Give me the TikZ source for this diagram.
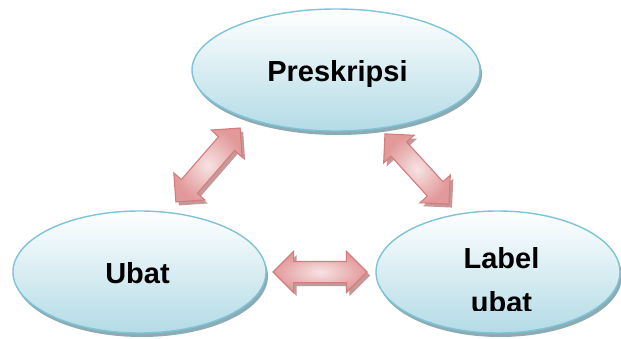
\documentclass[tikz,border=0pt]{standalone}
\usepackage{fontspec}
\setsansfont{Liberation Sans}
\usetikzlibrary{shapes.geometric,shapes.arrows,shadows}
\definecolor{biru}{HTML}{B3DBE6}
\definecolor{garis}{HTML}{7DC4D8}
\definecolor{bayang}{HTML}{8DABB2}
\definecolor{merah}{HTML}{D67C7E}
\definecolor{merahmuda}{HTML}{F7E3E3}
\definecolor{merahtua}{HTML}{E2999A}
\definecolor{bayangmerah}{HTML}{BC8E8E}

\begin{document}
\begin{tikzpicture}[x=1pt,y=1pt,
    bulat/.style={ellipse,draw=garis,line width=1.4pt,top color=white,bottom color=biru,
      inner sep=0pt,minimum height=122pt,
      drop shadow={shadow xshift=2pt,shadow yshift=-4pt,fill=bayang,opacity=1}},
    panah/.style={double arrow,draw=merah,line width=1.1pt,inner xsep=0pt,inner ysep=10pt,
      minimum width=40pt,double arrow head extend=10pt,inner color=merahmuda,outer color=merahtua,
      drop shadow={shadow xshift=3pt,shadow yshift=-3.5pt,fill=bayangmerah,opacity=.9}},
    teks/.style={font=\sffamily\bfseries\fontsize{29}{44}\selectfont,align=center,anchor=base}]
  \useasboundingbox (0,0) rectangle (621,338);
  % panah dua hala
  \node[panah,minimum height=98pt,rotate=49] (p1) at (208,173) {};
  \node[panah,minimum height=95pt,rotate=-47.6] (p2) at (417,169) {};
  \node[panah,minimum height=94pt] (p3) at (320,66) {};
  % elips
  \node[bulat,minimum width=288pt] (presk) at (336,268) {};
  \node[bulat,minimum width=253pt] (ubat) at (139.5,66) {};
  \node[bulat,minimum width=244pt] (label) at (498,66) {};
  \node[teks] (preskT) at (337.5,256) {Preskripsi};
  \node[teks] (ubatT) at (137.5,55) {Ubat};
  \begin{scope}
    \clip (label.west |- 0,28) rectangle (label.north east);
    \node[teks] (labelT) at (501.5,26) {Label\\ubat};
  \end{scope}
\end{tikzpicture}
\end{document}
